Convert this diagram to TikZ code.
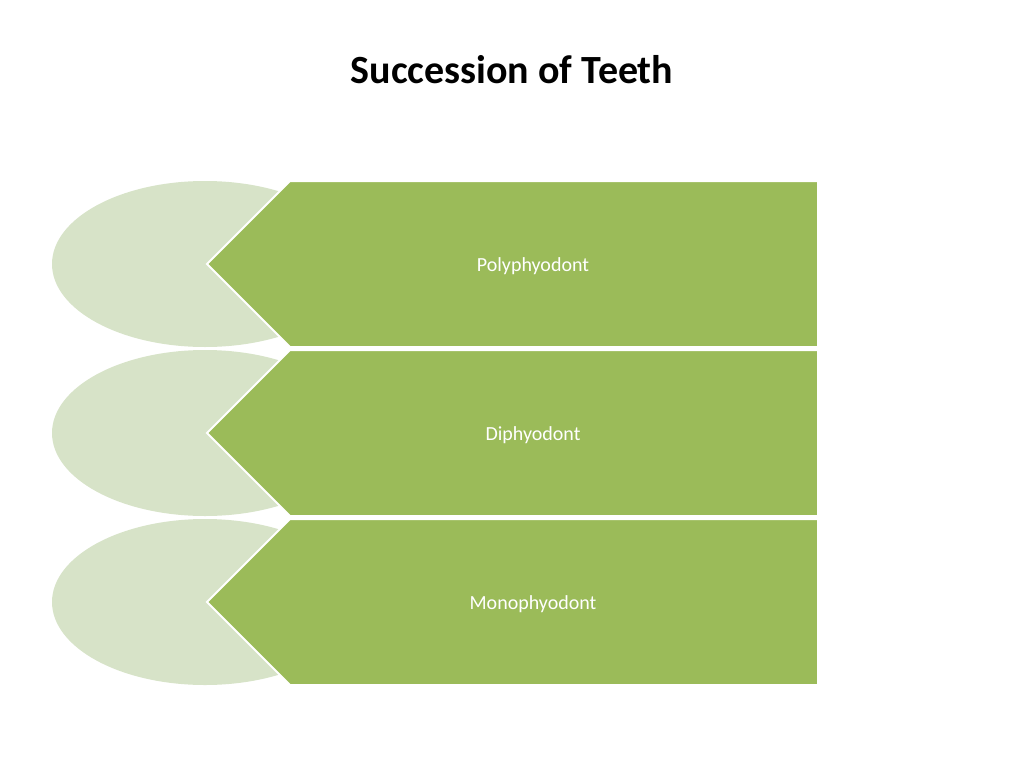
\documentclass[tikz,border=0pt]{standalone}
\usepackage{fontspec}
\setmainfont{Carlito}
\definecolor{lgreen}{HTML}{D7E3C8}
\definecolor{dgreen}{HTML}{9BBB59}
\begin{document}
\begin{tikzpicture}[x=1pt,y=-1pt,
  oval/.style={fill=lgreen,draw=none},
  chev/.style={fill=dgreen,draw=white,line width=2pt},
  lbl/.style={text=white,font=\fontsize{20}{24}\selectfont}]
\useasboundingbox (0,0) rectangle (1024,768);
\node (title) at (512,70) {\fontsize{40}{48}\selectfont\bfseries Succession of Teeth};
\foreach \t/\txt/\n in {181/Polyphyodont/a,350/Diphyodont/b,519/Monophyodont/c}{
  \fill[oval] (205,\t+83) ellipse [x radius=153, y radius=83];
  \draw[chev] (290,\t) -- (818,\t) -- (818,\t+166) -- (290,\t+166) -- (207,\t+83) -- cycle;
  \node[lbl] (\n) at (533,\t+85) {\txt};
}
\end{tikzpicture}
\end{document}
